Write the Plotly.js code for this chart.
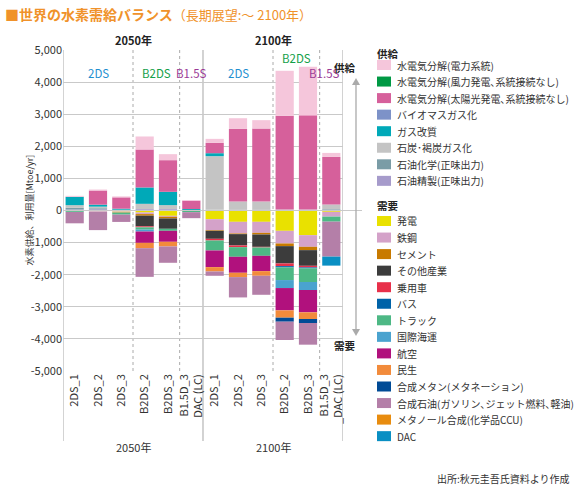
<!DOCTYPE html>
<html><head><meta charset="utf-8">
<script src="https://cdn.plot.ly/plotly-3.0.1.min.js"></script>
<style>html,body{margin:0;padding:0;background:#fff;}#chart{width:578px;height:487px;}</style>
</head><body><div id="chart"></div>
<script>
// ---------- data ----------
const yearGroups = ['2050年', '2100年'];
const scenarioTicks = ['2DS_1','2DS_2','2DS_3','B2DS_2','B2DS_3','B1.5D_3<br>DAC (LC)',
                       '2DS_1','2DS_2','2DS_3','B2DS_2','B2DS_3','B1.5D_3<br>_DAC (LC)'];
const scenarioGroups = ['2DS','B2DS','B1.5S'];
const yTickVals = [-5000,-4000,-3000,-2000,-1000,0,1000,2000,3000,4000,5000];
const yTickText = ['-5,000','-4,000','-3,000','-2,000','-1,000','0','1,000','2,000','3,000','4,000','5,000'];

// supply (Mtoe/yr)
const elecGrid     = [31, 31, 31, 405, 187, 20, 125, 330, 262, 1400, 1514, 125];
const elecWind     = [0, 0, 0, 0, 0, 0, 0, 0, 0, 0, 0, 0];
const elecSolar    = [0, 440, 353, 1183, 986, 260, 322, 2265, 2274, 2922, 2934, 1483];
const biomassGas   = [0, 0, 0, 0, 0, 0, 0, 0, 0, 0, 0, 0];
const gasReforming = [260, 62, 31, 510, 415, 30, 93, 0, 0, 0, 0, 0];
const coalGas      = [83, 50, 0, 166, 125, 0, 1672, 260, 258, 30, 30, 146];
const petrochem    = [52, 30, 10, 0, 0, 0, 20, 20, 20, 0, 0, 20];
const oilRefining  = [31, 40, 15, 42, 42, 15, 0, 0, 0, 0, 0, 20];

// demand (Mtoe/yr, negative)
const power        = [0, -20, -31, -62, -166, 0, -270, -353, -353, -633, -768, -41];
const steel        = [-20, -20, -20, -50, -30, 0, -343, -363, -343, -394, -363, -150];
const cement       = [0, 0, -15, -50, -52, 0, -20, -20, -52, -83, -104, 0];
const otherIndustry= [0, 0, 0, -332, -322, 0, -249, -353, -384, -540, -488, 0];
const cars         = [0, 0, 0, -31, 0, 0, -52, -52, -20, -83, -50, 0];
const buses        = [0, 0, 0, 0, 0, 0, 0, 0, 0, -40, -30, 0];
const trucks       = [-26, 0, -62, -70, -62, -52, -311, -301, -260, -394, -425, -156];
const shipping     = [0, 0, 0, -60, 0, 0, 0, 0, 0, -249, -249, 0];
const aviation     = [0, 0, 0, -353, -343, 0, -519, -498, -477, -695, -695, 0];
const residential  = [0, 0, 0, -166, -145, 0, -135, -135, -145, -228, -208, 0];
const synMethane   = [0, 0, 0, 0, 0, 0, 0, 0, 0, -125, -125, 0];
const synFuel      = [-353, -571, -228, -893, -509, -187, -135, -633, -592, -571, -675, -1090];
const methanol     = [0, 0, 0, 0, 0, 0, 0, 0, 0, 0, 0, 0];
const dac          = [0, 0, 0, 0, 0, 0, 0, 0, 0, 0, 0, -280];

// legend order (top to bottom)
const supplyNames = ['水電気分解(電力系統)','水電気分解(風力発電､系統接続なし)','水電気分解(太陽光発電､系統接続なし)',
  'バイオマスガス化','ガス改質','石炭･褐炭ガス化','石油化学(正味出力)','石油精製(正味出力)'];
const supplyValues = [elecGrid, elecWind, elecSolar, biomassGas, gasReforming, coalGas, petrochem, oilRefining];
const supplyColors = ['#f5c6db','#009944','#d6609b','#7d92c8','#00a9b8','#c4c4c4','#7a9ca6','#a69bcb'];

const demandNames = ['発電','鉄鋼','セメント','その他産業','乗用車','バス','トラック','国際海運','航空','民生',
  '合成メタン(メタネーション)','合成石油(ガソリン､ジェット燃料､軽油)','メタノール合成(化学品CCU)','DAC'];
const demandValues = [power, steel, cement, otherIndustry, cars, buses, trucks, shipping, aviation, residential,
  synMethane, synFuel, methanol, dac];
const demandColors = ['#e9e100','#d4a2c9','#c87a00','#3c3c3c','#e8304a','#0063a8','#4db885','#4aa3cf','#b1117d',
  '#f28b3b','#004b96','#b47fa8','#e88c0f','#0a8fc3'];
const groupColors = ['#1f8fd0','#14a04a','#9b3a96'];

// ---------- geometry helpers ----------
const L = 63, R = 343, T = 50, B = 371;
const px = p => (p - L) / (R - L);
const py = p => (B - p) / (B - T);
const xs = scenarioTicks.map((_, i) => i);

// ---------- traces ----------
const traces = [];
for (let k = supplyNames.length - 1; k >= 0; k--) {
  traces.push({type:'bar', x: xs, y: supplyValues[k], name: supplyNames[k],
    marker:{color: supplyColors[k], line:{width:0}}, hoverinfo:'skip'});
}
for (let k = 0; k < demandNames.length; k++) {
  traces.push({type:'bar', x: xs, y: demandValues[k], name: demandNames[k],
    marker:{color: demandColors[k], line:{width:0}}, hoverinfo:'skip'});
}

// ---------- shapes & annotations ----------
const shapes = [];
const annotations = [];
const gridC = '#c9c9c9';
const ann = o => annotations.push(Object.assign({showarrow:false, yanchor:'middle'}, o));

[-0.5, 5.5, 11.5].forEach(v => shapes.push({type:'line', xref:'x', yref:'paper', x0:v, x1:v, y0:py(441), y1:1,
  line:{color:'#b5b5b5', width:1.2}, layer:'below'}));
[2.5, 4.5, 8.5, 10.5].forEach(v => shapes.push({type:'line', xref:'x', yref:'paper', x0:v, x1:v, y0:0, y1:1,
  line:{color:'#aaaaaa', width:1, dash:'3px,3px'}, layer:'below'}));
shapes.push({type:'line', xref:'paper', yref:'y', x0:0, x1:px(362), y0:0, y1:0, line:{color:gridC, width:1.2}});

yearGroups.forEach((t, g) => {
  const cx = g * 6 + 2.5;
  ann({xref:'x', yref:'paper', x:cx, y:py(40), text:'<b>'+t+'</b>', font:{size:11, color:'#222'}});
  ann({xref:'x', yref:'paper', x:cx, y:py(447), text:t, font:{size:11, color:'#333'}});
  const centers = [g*6 + 1, g*6 + 3.5, g*6 + 5];
  scenarioGroups.forEach((s, j) => {
    const high = (g === 1 && j === 1);
    ann({xref:'x', yref:'paper', x:centers[j], y:py(high ? 58 : 73), text:s,
      xshift: (g === 1 && j === 2) ? -7 : 0,
      font:{size:11.5, color:groupColors[j]}});
  });
});

ann({xref:'paper', yref:'paper', x:px(3), y:py(14), xanchor:'left',
  text:'<b>■世界の水素需給バランス</b><span style="font-size:13px">（長期展望:～ 2100年）</span>',
  font:{size:14, color:'#f0922a'}});
ann({xref:'paper', yref:'paper', x:px(20), y:py(210), textangle:-90,
  text:'水素供給、利用量[Mtoe/yr]', font:{size:9, color:'#333'}});
ann({xref:'paper', yref:'paper', x:px(572), y:py(478), xanchor:'right',
  text:'出所:秋元圭吾氏資料より作成', font:{size:10, color:'#333'}});

ann({xref:'paper', yref:'paper', x:px(358), y:py(67), text:'<b>供給</b>', font:{size:10.5, color:'#222'}});
ann({xref:'paper', yref:'paper', x:px(358), y:py(345), text:'<b>需要</b>', font:{size:10.5, color:'#222'}});
const ax = 356;
shapes.push({type:'line', xref:'paper', yref:'paper', x0:px(ax), x1:px(ax), y0:py(84), y1:py(330), line:{color:'#aaaaaa', width:1.3}});
const tri = (x, y, dir) => `M${px(x-4)},${py(y + dir*7)} L${px(x)},${py(y)} L${px(x+4)},${py(y + dir*7)} Z`;
shapes.push({type:'path', xref:'paper', yref:'paper', path:tri(ax, 78, 1), fillcolor:'#aaaaaa', line:{width:0}});
shapes.push({type:'path', xref:'paper', yref:'paper', path:tri(ax, 336, -1), fillcolor:'#aaaaaa', line:{width:0}});

const step = 16.55;
function legendBlock(title, titleY, names, colors, firstY) {
  ann({xref:'paper', yref:'paper', x:px(375), y:py(titleY), xanchor:'left',
    text:'<b>'+title+'</b>', font:{size:10.5, color:'#222'}});
  names.forEach((n, i) => {
    const cy = firstY + i * step;
    shapes.push({type:'rect', xref:'paper', yref:'paper', x0:px(377), x1:px(391), y0:py(cy + 5), y1:py(cy - 5),
      fillcolor: colors[i], line:{width:0}});
    ann({xref:'paper', yref:'paper', x:px(395), y:py(cy), xanchor:'left', text:n, font:{size:10, color:'#333'}});
  });
}
legendBlock('供給', 53, supplyNames, supplyColors, 65);
legendBlock('需要', 205, demandNames, demandColors, 221);

const layout = {
  width:578, height:487,
  margin:{l:L, r:578-R, t:T, b:487-B},
  paper_bgcolor:'#ffffff', plot_bgcolor:'#ffffff',
  barmode:'relative', bargap:0.22,
  showlegend:false,
  font:{family:'"Noto Sans CJK JP", "Noto Sans", sans-serif', color:'#333', size:11},
  xaxis:{range:[-0.5, 11.5], tickmode:'array', tickvals:xs, ticktext:scenarioTicks, tickangle:-90,
    showgrid:false, zeroline:false, showline:false, ticks:'', tickfont:{size:11, color:'#333'}, fixedrange:true},
  yaxis:{range:[-5000, 5000], tickmode:'array', tickvals:yTickVals, ticktext:yTickText,
    showgrid:true, gridcolor:gridC, gridwidth:1.2, zeroline:false, showline:false, ticks:'',
    tickfont:{size:11, color:'#333'}, fixedrange:true},
  shapes, annotations
};
Plotly.newPlot('chart', traces, layout, {staticPlot:true, displayModeBar:false});
</script>
</body></html>
